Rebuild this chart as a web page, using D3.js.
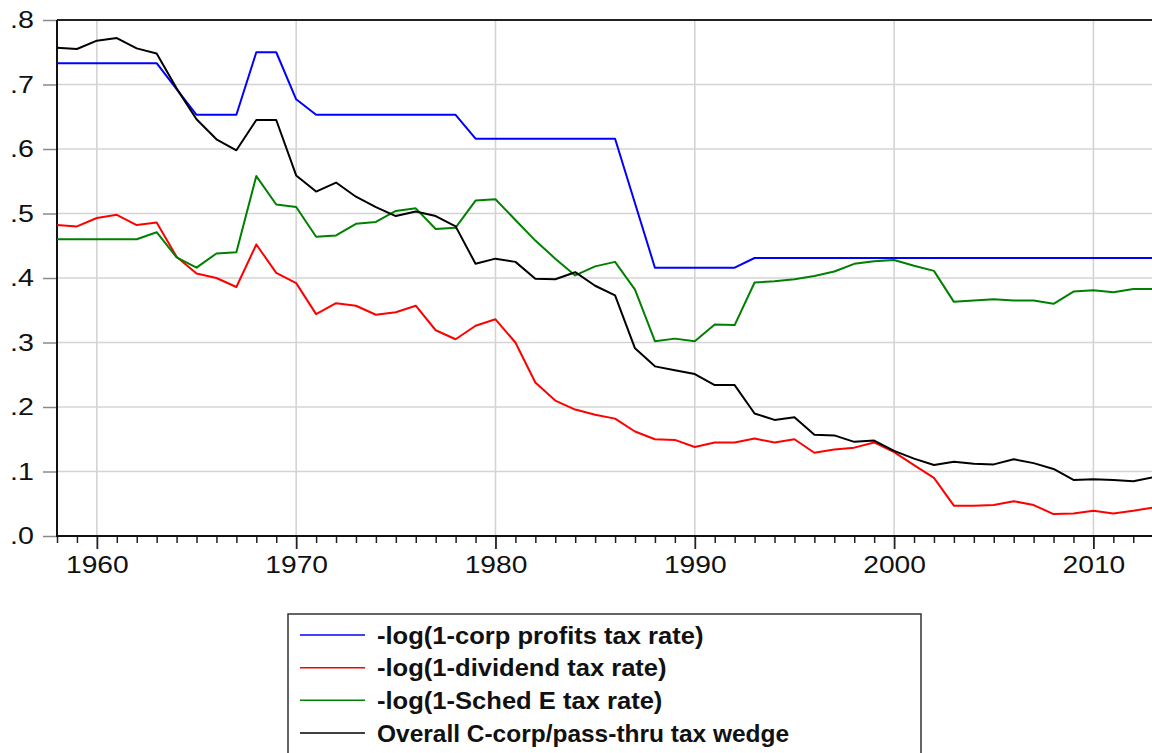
<!DOCTYPE html>
<html><head><meta charset="utf-8">
<script src="https://cdn.jsdelivr.net/npm/d3@7"></script>
<style>body{margin:0;background:#fff}svg{display:block}</style>
</head><body>
<script>
const startYear = 1958, endYear = 2013;
const years = d3.range(startYear, endYear + 1);
const corpProfits = [0.733,0.733,0.733,0.733,0.733,0.733,0.693,0.653,0.653,0.653,0.750,0.750,0.677,
0.653,0.653,0.653,0.653,0.653,0.653,0.653,0.653,0.616,0.616,0.616,0.616,0.616,0.616,0.616,0.616,
0.516,0.416,0.416,0.416,0.416,0.416,0.431,0.431,0.431,0.431,0.431,0.431,0.431,0.431,0.431,0.431,
0.431,0.431,0.431,0.431,0.431,0.431,0.431,0.431,0.431,0.431,0.431];
const dividend = [0.482,0.480,0.493,0.498,0.482,0.486,0.433,0.407,0.400,0.386,0.452,0.408,0.392,
0.344,0.361,0.357,0.343,0.347,0.357,0.319,0.305,0.326,0.336,0.300,0.238,0.210,0.196,0.188,0.182,
0.162,0.150,0.149,0.138,0.145,0.145,0.151,0.145,0.150,0.129,0.134,0.137,0.145,0.130,0.110,0.090,
0.047,0.047,0.048,0.054,0.048,0.034,0.035,0.039,0.035,0.039,0.044];
const schedE = [0.460,0.460,0.460,0.460,0.460,0.471,0.432,0.416,0.438,0.440,0.558,0.514,0.510,
0.464,0.466,0.484,0.487,0.504,0.508,0.476,0.478,0.520,0.522,0.490,0.458,0.430,0.404,0.418,0.425,
0.382,0.302,0.306,0.302,0.328,0.327,0.393,0.395,0.398,0.403,0.410,0.422,0.426,0.428,0.419,0.411,
0.363,0.365,0.367,0.365,0.365,0.360,0.379,0.381,0.378,0.383,0.383];
const wedge = [0.757,0.755,0.768,0.772,0.756,0.748,0.694,0.646,0.615,0.598,0.645,0.645,0.559,
0.534,0.548,0.526,0.510,0.496,0.503,0.496,0.480,0.422,0.430,0.425,0.399,0.398,0.409,0.388,0.373,
0.291,0.263,0.257,0.251,0.234,0.234,0.190,0.180,0.184,0.157,0.156,0.146,0.148,0.132,0.120,0.110,
0.115,0.112,0.111,0.119,0.113,0.104,0.087,0.088,0.087,0.085,0.091];
const seriesNames = ["-log(1-corp profits tax rate)","-log(1-dividend tax rate)","-log(1-Sched E tax rate)","Overall C-corp/pass-thru tax wedge"];
const seriesColors = ["#0000ff","#ff0000","#008000","#000000"];
const seriesValues = [corpProfits, dividend, schedE, wedge];
const yTicks = [0,0.1,0.2,0.3,0.4,0.5,0.6,0.7,0.8];
const xMajorTicks = [1960,1970,1980,1990,2000,2010];

const W = 1152, H = 753;
const svg = d3.select("body").append("svg").attr("width", W).attr("height", H);
const x = d3.scaleLinear().domain([startYear, endYear]).range([57, 1153.2]);
const y = d3.scaleLinear().domain([0, 0.8]).range([536, 20]);

// gridlines
svg.append("g").selectAll("line.v").data(xMajorTicks).join("line")
  .attr("x1", d => x(d)).attr("x2", d => x(d)).attr("y1", y(0.8)).attr("y2", y(0))
  .attr("stroke", "#d4d4d4").attr("stroke-width", 1.6);
svg.append("g").selectAll("line.h").data(yTicks.slice(1, -1)).join("line")
  .attr("x1", x(startYear)).attr("x2", W).attr("y1", d => y(d)).attr("y2", d => y(d))
  .attr("stroke", "#d4d4d4").attr("stroke-width", 1.6);

// top border
svg.append("line").attr("x1", x(startYear)).attr("x2", W).attr("y1", y(0.8)).attr("y2", y(0.8))
  .attr("stroke", "#222").attr("stroke-width", 2);

// y axis
const yAxis = d3.axisLeft(y).tickValues(yTicks).tickSize(14).tickPadding(0).tickFormat(() => "");
const gy = svg.append("g").attr("transform", `translate(${x(startYear)},0)`).call(yAxis);
gy.select(".domain").remove();
gy.selectAll(".tick line").attr("stroke", "#8a8a8a").attr("stroke-width", 1.5);
gy.selectAll(".tick").append("text")
  .attr("transform", "translate(-23,0) scale(1.22,1)")
  .attr("text-anchor", "end").attr("dy", "0.33em").attr("fill", "#111")
  .style("font-family", "'Liberation Sans', Arial, sans-serif").style("font-size", "23.5px")
  .text(d => d3.format(".1f")(d).replace(/^0/, ""));
svg.append("line").attr("x1", x(startYear)).attr("x2", x(startYear)).attr("y1", y(0.8)).attr("y2", y(0) + 1)
  .attr("stroke", "#111").attr("stroke-width", 2);

// x axis
const xMinor = d3.axisBottom(x).tickValues(years.filter(v => v % 10 !== 0)).tickSize(7).tickFormat(() => "");
const gxm = svg.append("g").attr("transform", `translate(0,${y(0)})`).call(xMinor);
gxm.select(".domain").remove();
gxm.selectAll(".tick line").attr("stroke", "#222").attr("stroke-width", 1.5);
const xMajor = d3.axisBottom(x).tickValues(xMajorTicks).tickSize(13).tickFormat(() => "");
const gx = svg.append("g").attr("transform", `translate(0,${y(0)})`).call(xMajor);
gx.select(".domain").remove();
gx.selectAll(".tick line").attr("stroke", "#222").attr("stroke-width", 1.8);
gx.selectAll(".tick").append("text")
  .attr("transform", "translate(0,36.5) scale(1.2,1)")
  .attr("text-anchor", "middle").attr("fill", "#111")
  .style("font-family", "'Liberation Sans', Arial, sans-serif").style("font-size", "23.5px")
  .text(d => d);
svg.append("line").attr("x1", x(startYear) - 1).attr("x2", W).attr("y1", y(0)).attr("y2", y(0))
  .attr("stroke", "#111").attr("stroke-width", 2);

// series lines
const line = d3.line().x((d, i) => x(years[i])).y(d => y(d));
svg.append("g").selectAll("path").data(seriesValues).join("path")
  .attr("d", d => line(d)).attr("fill", "none")
  .attr("stroke", (d, i) => seriesColors[i]).attr("stroke-width", 2).attr("stroke-linejoin", "round");

// legend
const lg = svg.append("g");
lg.append("rect").attr("x", 288).attr("y", 614).attr("width", 633).attr("height", 180)
  .attr("fill", "#fff").attr("stroke", "#333").attr("stroke-width", 1.5);
const rowY = d3.scalePoint().domain(d3.range(4)).range([635, 733]);
const rows = lg.selectAll("g.row").data(seriesNames).join("g")
  .attr("transform", (d, i) => `translate(0,${rowY(i)})`);
rows.append("line").attr("x1", 300).attr("x2", 365).attr("y1", 0).attr("y2", 0)
  .attr("stroke", (d, i) => seriesColors[i]).attr("stroke-width", 1.5);
rows.append("text").attr("transform", (d, i) => `translate(377,0) scale(${i === 3 ? 1.02 : 1.065},1)`)
  .attr("dy", "0.36em").attr("fill", "#111")
  .style("font-family", "'Liberation Sans', Arial, sans-serif").style("font-weight", "bold")
  .style("font-size", "24px").text(d => d);
</script>
</body></html>
